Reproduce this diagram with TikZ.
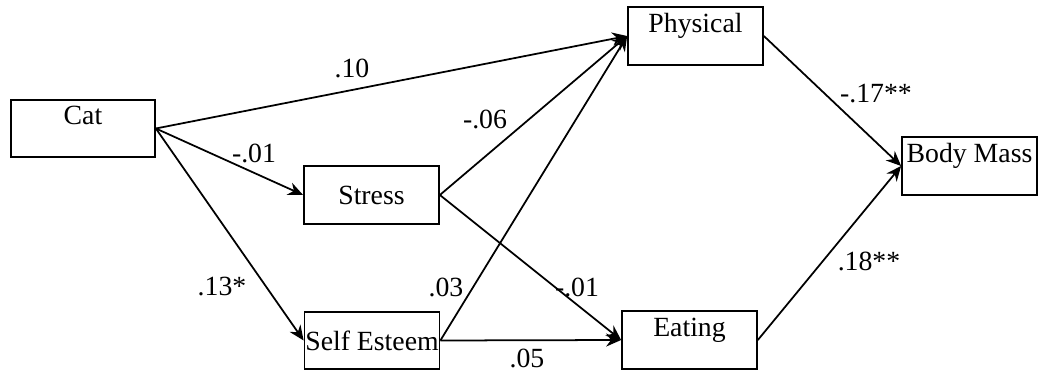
\documentclass[tikz,border=0pt]{standalone}
\usepackage{fontspec}
\setmainfont{Liberation Serif}
\usetikzlibrary{arrows.meta}

\begin{document}
\begin{tikzpicture}[x=0.02cm, y=-0.02cm,
    every node/.style={font=\fontsize{15.8}{18}\selectfont},
    box/.style={rectangle, draw, line width=1pt, minimum width=2.7cm, minimum height=1.15cm, inner sep=0pt},
    topbox/.style={box, text height=0.5cm, text depth=0.65cm},
    link/.style={-{Stealth[length=3mm, width=2.6mm]}, line width=1pt},
    coef/.style={inner sep=0pt}]
        \useasboundingbox (0,0) rectangle (1042,375);

        % Zmienne
        \node[topbox, minimum width=2.88cm] (cat) at (83,128.5) {Cat};
        \node[topbox] (physical) at (695.5,36) {Physical};
        \node[box] (stress) at (371.5,195) {Stress};
        \node[box] (selfesteem) at (372,340.5) {Self Esteem};
        \node[topbox] (eating) at (689.5,340) {Eating};
        \node[topbox] (bodymass) at (969.5,166) {Body Mass};

        % Ścieżki
        \draw[link] (cat.east) -- (physical.west);
        \draw[link] (cat.east) -- (stress.west);
        \draw[link] (cat.east) -- (selfesteem.west);
        \draw[link] (stress.east) -- (physical.west);
        \draw[link] (selfesteem.east) -- (physical.west);
        \draw[link] (stress.east) -- (eating.west);
        \draw[link] (selfesteem.east) -- (eating.west);
        \draw[link] (physical.east) -- (bodymass.west);
        \draw[link] (eating.east) -- (bodymass.west);

        % Współczynniki
        \node[coef] (catphys) at (352,68) {.10};
        \node[coef] (catstress) at (254,153) {-.01};
        \node[coef] (catself) at (222,287) {.13*};
        \node[coef] (stressphys) at (485,119) {-.06};
        \node[coef] (selfphys) at (446,287) {.03};
        \node[coef] (stresseat) at (577,287) {-.01};
        \node[coef] (selfeat) at (527,358) {.05};
        \node[coef] (physbody) at (876,94) {-.17**};
        \node[coef] (eatbody) at (869,261) {.18**};
    \end{tikzpicture}
\end{document}
